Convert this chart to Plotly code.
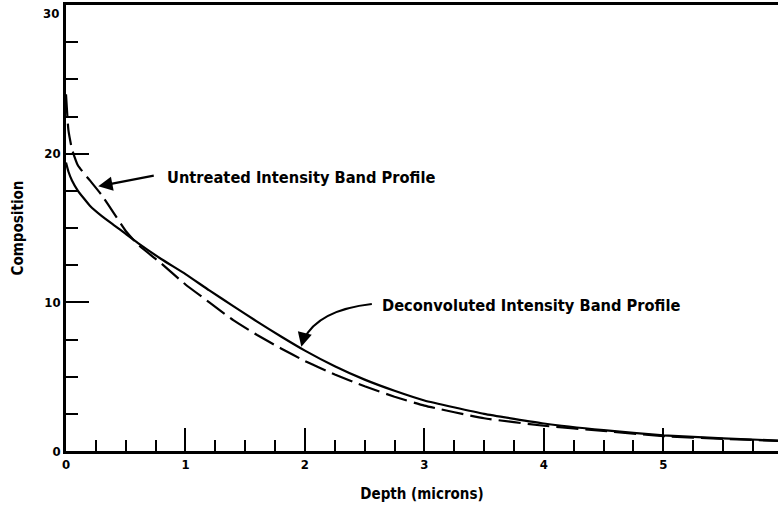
import plotly.graph_objects as go

# Data
depth = [0.0, 0.02, 0.05, 0.1, 0.2, 0.3, 0.4, 0.5, 0.6, 0.8, 1.0, 1.2, 1.4, 1.6, 1.8,
         2.0, 2.25, 2.5, 2.75, 3.0, 3.5, 4.0, 4.5, 5.0, 5.5, 5.96]
deconvoluted = [19.4, 18.8, 18.2, 17.5, 16.5, 15.8, 15.2, 14.6, 14.0, 12.9, 11.9, 10.8,
                9.75, 8.7, 7.7, 6.75, 5.7, 4.8, 4.05, 3.4, 2.5, 1.85, 1.4, 1.05, 0.85, 0.7]
untreated = [24.0, 21.6, 20.3, 19.2, 18.2, 17.2, 16.0, 14.8, 13.9, 12.6, 11.2, 10.0,
             8.8, 7.8, 6.9, 6.05, 5.15, 4.35, 3.65, 3.05, 2.2, 1.7, 1.35, 1.0, 0.82, 0.68]

x_ticks = [0, 1, 2, 3, 4, 5]
x_tick_labels = ["0", "1", "2", "3", "4", "5"]
y_ticks = [0, 10, 20]
y_tick_labels = ["0", "10", "20"]
y_top_value = 30
y_top_label = "30"

FONT = "DejaVu Sans Condensed, DejaVu Sans, sans-serif"

fig = go.Figure()
fig.add_trace(go.Scatter(
    x=depth, y=deconvoluted, mode="lines", name="Deconvoluted Intensity Band Profile",
    line=dict(color="black", width=2.2, shape="spline", smoothing=0.4),
    showlegend=False))
fig.add_trace(go.Scatter(
    x=depth, y=untreated, mode="lines", name="Untreated Intensity Band Profile",
    line=dict(color="black", width=2.2, dash="22px,7px", shape="spline", smoothing=0.4),
    showlegend=False))

# Labels
fig.add_annotation(x=0.83, y=18.4, xref="x", yref="y", text="Untreated Intensity Band Profile",
                   showarrow=False, xanchor="left", yanchor="middle",
                   font=dict(family=FONT, size=16.3, color="black", weight="bold"))
fig.add_annotation(x=2.63, y=9.82, xref="x", yref="y", text="Deconvoluted Intensity Band Profile",
                   showarrow=False, xanchor="left", yanchor="middle",
                   font=dict(family=FONT, size=16.3, color="black", weight="bold"))

# Top y tick label (kept inside the page)
fig.add_annotation(x=0, y=y_top_value, xref="paper", yref="y", text=y_top_label,
                   showarrow=False, xanchor="right", yanchor="middle", xshift=-5, yshift=-8,
                   font=dict(family=FONT, size=13, color="black", weight="bold"))

# Arrows
fig.add_annotation(x=0.27, y=17.8, xref="x", yref="y", text="", showarrow=True,
                   ax=57, ay=-11, arrowhead=2, arrowsize=1.3, arrowwidth=2.2, arrowcolor="black")
fig.add_shape(type="path", xref="x", yref="y",
              path="M 2.56 9.89 Q 2.11 9.48 1.99 7.5",
              line=dict(color="black", width=2.2))
fig.add_annotation(x=1.97, y=7.01, xref="x", yref="y", text="", showarrow=True,
                   ax=3, ay=-12, arrowhead=2, arrowsize=1.3, arrowwidth=2.2, arrowcolor="black")

fig.update_xaxes(
    range=[0, 5.96], tickvals=x_ticks, ticktext=x_tick_labels,
    showgrid=False, zeroline=False, showline=True, linecolor="black", linewidth=2.5,
    mirror=True, ticks="inside", ticklen=23, tickwidth=2.2, tickcolor="black",
    minor=dict(dtick=0.25, tick0=0, ticks="inside", ticklen=11, tickwidth=2, tickcolor="black", showgrid=False),
    tickfont=dict(family=FONT, size=13, color="black", weight="bold"),
    title=dict(text="Depth (microns)", font=dict(family=FONT, size=15, color="black", weight="bold"), standoff=18),
    automargin=False,
)
fig.update_yaxes(
    range=[0, 30], tickvals=y_ticks, ticktext=y_tick_labels,
    showgrid=False, zeroline=False, showline=True, linecolor="black", linewidth=2.5,
    ticks="inside", ticklen=23, tickwidth=2.2, tickcolor="black",
    minor=dict(dtick=2.5, tick0=0, ticks="inside", ticklen=12, tickwidth=2, tickcolor="black", showgrid=False),
    tickfont=dict(family=FONT, size=13, color="black", weight="bold"),
    title=dict(text="Composition", font=dict(family=FONT, size=15, color="black", weight="bold"), standoff=18),
    automargin=False,
)

fig.update_layout(
    width=778, height=511,
    margin=dict(l=66, r=0, t=5, b=60),
    paper_bgcolor="white", plot_bgcolor="white",
)

fig.write_html("out.html", config={"displayModeBar": False},
               post_script="document.body.style.margin='0';document.body.style.overflow='hidden';")
